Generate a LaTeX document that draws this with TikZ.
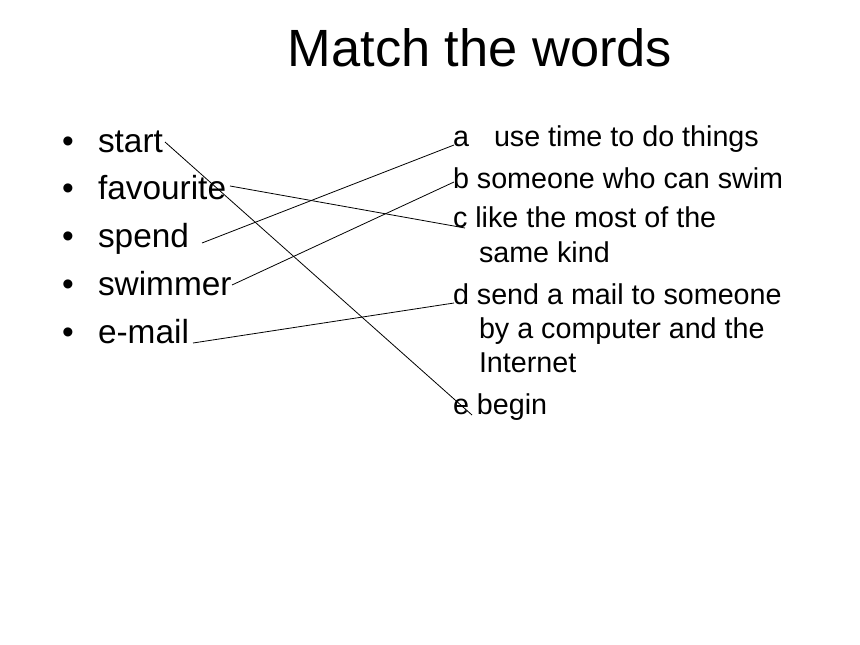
\documentclass[tikz,border=0pt]{standalone}
\usepackage{fontspec}
\setmainfont{Liberation Sans}
\begin{document}
\begin{tikzpicture}[x=1pt,y=-1pt,
  txt/.style={anchor=base west,inner sep=0pt,outer sep=0pt},
  word/.style={txt,font=\fontsize{33.4}{38}\selectfont},
  defn/.style={txt,font=\fontsize{28.7}{33}\selectfont},
  link/.style={draw=black,line width=0.8pt}]
\useasboundingbox[fill=white] (0,0) rectangle (860,645);
\node[anchor=base,inner sep=0pt,font=\fontsize{52.4}{60}\selectfont] (title) at (480,66) {Match the words};
% bullets and words
\foreach \y/\n/\w in {152/w1/start,199/w2/favourite,247/w3/spend,295/w4/swimmer,343/w5/e-mail}{
  \node[word] (b\n) at (62,\y) {•};
  \node[word] (\n) at (98,\y) {\w};
}
% definitions
\node[defn] (da) at (453,146) {a};
\node[defn] (dat) at (494,146) {use time to do things};
\node[defn] (db) at (453,188) {b someone who can swim};
\node[defn] (dc) at (453,227) {c like the most of the};
\node[defn] (dc2) at (479,262) {same kind};
\node[defn] (dd) at (453,304) {d send a mail to someone};
\node[defn] (dd2) at (479,338) {by a computer and the};
\node[defn] (dd3) at (479,372) {Internet};
\node[defn] (de) at (453,414) {e begin};
% connector ends
\coordinate (s1) at (165,142); \coordinate (e1) at (472,415);
\coordinate (s2) at (230,186); \coordinate (e2) at (465,228);
\coordinate (s3) at (202,243); \coordinate (e3) at (454,145);
\coordinate (s4) at (232,285); \coordinate (e4) at (454,182);
\coordinate (s5) at (193,343); \coordinate (e5) at (454,303);
\draw[link] (s1) -- (e1);
\draw[link] (s2) -- (e2);
\draw[link] (s3) -- (e3);
\draw[link] (s4) -- (e4);
\draw[link] (s5) -- (e5);
\end{tikzpicture}
\end{document}
